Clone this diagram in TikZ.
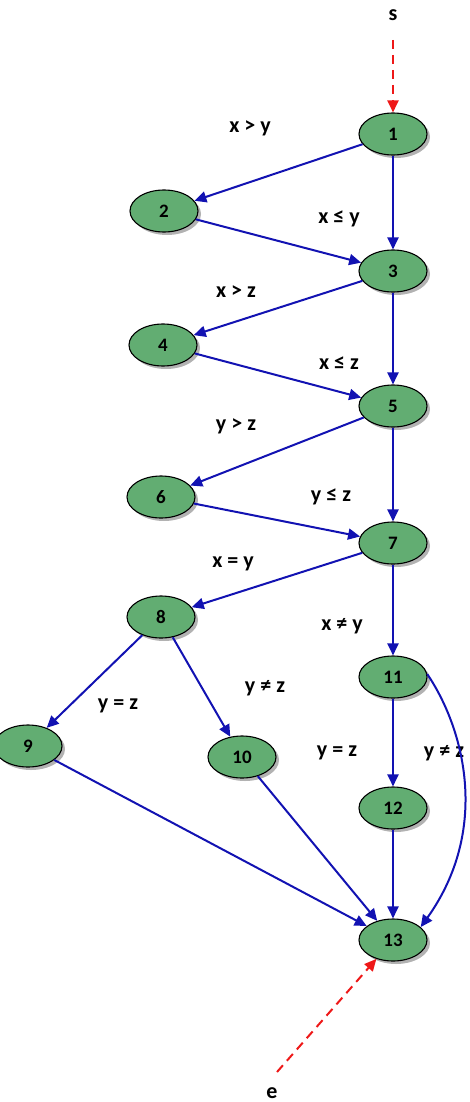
\documentclass[tikz,border=0pt]{standalone}
\usepackage{fontspec}
\setmainfont{Carlito}
\usetikzlibrary{shapes.geometric,shadows,arrows.meta}
\definecolor{nodegreen}{RGB}{98,173,114}
\definecolor{edgeblue}{RGB}{18,18,178}
\definecolor{dashred}{RGB}{238,24,24}
\tikzset{
  vtx/.style={ellipse, draw=black, line width=1.1pt, fill=nodegreen,
    minimum width=68pt, minimum height=42pt, inner sep=0pt,
    font=\fontsize{19}{19}\selectfont\bfseries,
    drop shadow={shadow xshift=3pt, shadow yshift=-3pt, fill=black!30, opacity=1}},
  flow/.style={draw=edgeblue, line width=2pt, -{Triangle[length=12pt,width=11pt]}},
  entry/.style={draw=dashred, line width=2pt, dash pattern=on 9pt off 6pt, -{Triangle[length=12pt,width=11pt]}},
  cond/.style={font=\fontsize{22}{22}\selectfont\bfseries, inner sep=0pt},
  term/.style={font=\fontsize{22}{22}\selectfont\bfseries, inner sep=0pt}
}
\begin{document}
\begin{tikzpicture}[x=1pt,y=-1pt]
\useasboundingbox (0,0) rectangle (470,1102);
\node[term] (s) at (393,15) {s};
\node[term] (e) at (272,1093) {e};
\node[vtx] (n1) at (393,134) {1};
\node[vtx] (n2) at (164,211) {2};
\node[vtx] (n3) at (393,271) {3};
\node[vtx] (n4) at (163,345) {4};
\node[vtx] (n5) at (393,406) {5};
\node[vtx] (n6) at (161,497) {6};
\node[vtx] (n7) at (393,543) {7};
\node[vtx] (n8) at (161,617) {8};
\node[vtx] (n9) at (28,746) {9};
\node[vtx] (n10) at (242,757) {10};
\node[vtx] (n11) at (393,677) {11};
\node[vtx] (n12) at (393,808) {12};
\node[vtx] (n13) at (393,940) {13};
\node[cond] (l1) at (250,128) {x > y};
\node[cond] (l2) at (339,219) {x ≤ y};
\node[cond] (l3) at (236,292) {x > z};
\node[cond] (l4) at (339,363) {x ≤ z};
\node[cond] (l5) at (236,426) {y > z};
\node[cond] (l6) at (331,497) {y ≤ z};
\node[cond] (l7) at (233,564) {x = y};
\node[cond] (l8) at (342,626) {x ≠ y};
\node[cond] (l9) at (265,688) {y ≠ z};
\node[cond] (l10) at (118,706) {y = z};
\node[cond] (l11) at (337,753) {y = z};
\node[cond] (l12) at (444,753) {y ≠ z};
\coordinate (sx) at (393,40);
\coordinate (ex) at (277,1072);
\draw[entry] (sx) -- (n1);
\draw[entry] (ex) -- (n13);
\draw[flow] (n1) -- (n2);
\draw[flow] (n1) -- (n3);
\draw[flow] (n2) -- (n3);
\draw[flow] (n3) -- (n4);
\draw[flow] (n3) -- (n5);
\draw[flow] (n4) -- (n5);
\draw[flow] (n5) -- (n6);
\draw[flow] (n5) -- (n7);
\draw[flow] (n6) -- (n7);
\draw[flow] (n7) -- (n8);
\draw[flow] (n7) -- (n11);
\draw[flow] (n8) -- (n9);
\draw[flow] (n8) -- (n10);
\draw[flow] (n9) -- (n13);
\draw[flow] (n10) -- (n13);
\draw[flow] (n11) -- (n12);
\draw[flow] (n12) -- (n13);
\draw[flow] (n11.5) .. controls (465,730) and (490,830) .. (n13.25);
\end{tikzpicture}
\end{document}
